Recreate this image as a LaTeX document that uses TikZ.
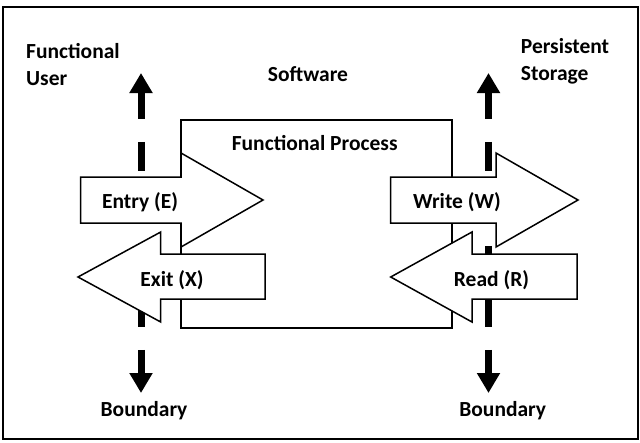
\documentclass[tikz,border=0pt]{standalone}
\usepackage{fontspec}
\setmainfont{Carlito}
\usetikzlibrary{arrows.meta}

\tikzset{
  lbl/.style={font=\bfseries\fontsize{21.5}{27}\selectfont, inner sep=0pt},
  frame/.style={draw=black, line width=2pt},
  procbox/.style={draw=black, line width=2pt},
  blockarrow/.style={draw=black, fill=white, line width=1.5pt, line join=miter},
  boundary/.style={line width=7pt,
    dash pattern=on 29pt off 23pt, dash phase=2pt,
    {Triangle[width=22pt,length=20pt]}-{Triangle[width=22pt,length=20pt]}}
}

\begin{document}
\begin{tikzpicture}[x=1pt, y=-1pt]
  \useasboundingbox (0,0) rectangle (640,442);
  \draw[frame] (3,7) rectangle (638,439);

  % boundary lines between the software and its surroundings
  \coordinate (ut) at (141,73);
  \coordinate (ub) at (141,393);
  \coordinate (st) at (488.5,73);
  \coordinate (sb) at (488.5,393);
  \draw[boundary] (ut) -- (ub);
  \draw[boundary] (st) -- (sb);

  % the functional process
  \draw[procbox] (181,120) rectangle (452,328);
  \node[lbl, anchor=base] (fp) at (314.7,150) {Functional Process};

  % data movements
  \draw[blockarrow] (80.7,177) -- (181,177) -- (181,153) -- (263,200)
        -- (181,247) -- (181,223) -- (80.7,223) -- cycle;
  \draw[blockarrow] (265,254) -- (160.7,254) -- (160.7,232) -- (78,277)
        -- (160.7,322) -- (160.7,299) -- (265,299) -- cycle;
  \draw[blockarrow] (390.7,177) -- (496,177) -- (496,153) -- (578,200)
        -- (496,247) -- (496,223) -- (390.7,223) -- cycle;
  \draw[blockarrow] (577,254) -- (472,254) -- (472,232) -- (390.7,277)
        -- (472,322) -- (472,299) -- (577,299) -- cycle;

  \node[lbl, anchor=base] (entry) at (140,208) {Entry (E)};
  \node[lbl, anchor=base] (exit)  at (172,286) {Exit (X)};
  \node[lbl, anchor=base] (write) at (457,208) {Write (W)};
  \node[lbl, anchor=base] (read)  at (491.5,286) {Read (R)};

  % surroundings (base anchor sits on the last line)
  \node[lbl, anchor=base west, align=left] (user) at (26,85) {Functional\\User};
  \node[lbl, anchor=base] (sw) at (308,81.7) {Software};
  \node[lbl, anchor=base west, align=left] (store) at (520.7,80) {Persistent\\Storage};
  \node[lbl, anchor=base] (bl) at (144,416) {Boundary};
  \node[lbl, anchor=base] (br) at (502.7,416) {Boundary};
\end{tikzpicture}
\end{document}
